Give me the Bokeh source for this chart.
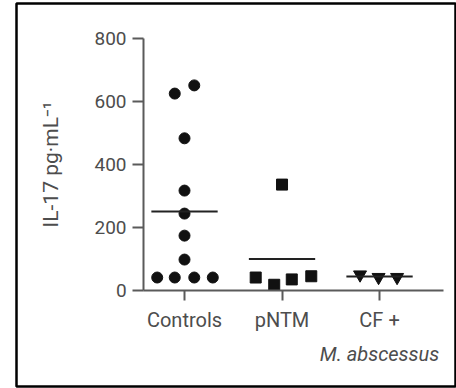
from bokeh.plotting import figure
from bokeh.models import FixedTicker, Range1d, LinearAxis
from bokeh.embed import file_html
from bokeh.resources import INLINE

# Data
categories = ["Controls", "pNTM", "CF +"]
category_line2 = "M. abscessus"
cat_pos = [1, 2, 3]
controls_x = [0.72, 0.90, 1.10, 1.29, 1.0, 1.0, 1.0, 1.0, 1.0, 0.90, 1.10]
controls_y = [41, 41, 41, 41, 98, 174, 244, 317, 483, 625, 651]
pntm_x = [1.73, 1.92, 2.10, 2.30, 2.0]
pntm_y = [41, 18, 35, 45, 336]
cf_x = [2.80, 2.99, 3.18]
cf_y = [50, 42, 42]
means = [251, 100, 44]
y_ticks = [0, 200, 400, 600, 800]

FONT = "Roboto"
TXT = "#4d4d4d"
AX = "#5a5a5a"

X0, X1 = 0.58, 3.66   # extent of the drawn x axis
Y0, Y1 = 0, 800       # extent of the drawn y axis

# The plotting frame fills the boxed area; its outline is the outer frame.
p = figure(width=456, height=388,
           min_border_left=16, min_border_right=1,
           min_border_top=3, min_border_bottom=2,
           x_range=Range1d(-0.723, 3.779), y_range=Range1d(-305, 911),
           x_axis_location=None, y_axis_location=None,
           output_backend="svg", toolbar_location=None)
p.outline_line_color = "black"
p.outline_line_width = 2.5
p.grid.grid_line_color = None
p.background_fill_color = "white"
p.border_fill_color = "white"

# y axis
yax = LinearAxis(fixed_location=X0, bounds=(Y0, Y1),
                 ticker=FixedTicker(ticks=y_ticks))
yax.minor_tick_line_color = None
yax.major_tick_out = 11
yax.major_tick_in = 0
yax.axis_line_color = AX
yax.major_tick_line_color = AX
yax.axis_line_width = 2
yax.major_tick_line_width = 2
yax.major_label_text_font = FONT
yax.major_label_text_font_size = "19px"
yax.major_label_text_color = TXT
yax.major_label_standoff = 6
yax.axis_label = "IL-17 pg·mL⁻¹"
yax.axis_label_text_font = FONT
yax.axis_label_text_font_style = "normal"
yax.axis_label_text_font_size = "21px"
yax.axis_label_text_color = TXT
yax.axis_label_standoff = 28
p.add_layout(yax, "left")

# x axis
xax = LinearAxis(fixed_location=Y0, bounds=(X0, X1),
                 ticker=FixedTicker(ticks=cat_pos),
                 major_label_overrides={c: n for c, n in zip(cat_pos, categories)})
xax.minor_tick_line_color = None
xax.major_tick_out = 10
xax.major_tick_in = 0
xax.axis_line_color = AX
xax.major_tick_line_color = AX
xax.axis_line_width = 2
xax.major_tick_line_width = 2
xax.major_label_text_font = FONT
xax.major_label_text_font_size = "20px"
xax.major_label_text_color = TXT
xax.major_label_standoff = 8
p.add_layout(xax, "below")

# second line of the third category label (italic)
ax2 = LinearAxis(fixed_location=-146, ticker=FixedTicker(ticks=[3]),
                 major_label_overrides={3: category_line2})
ax2.axis_line_color = None
ax2.major_tick_line_color = None
ax2.minor_tick_line_color = None
ax2.major_label_standoff = 0
ax2.major_label_text_font = FONT
ax2.major_label_text_font_size = "20px"
ax2.major_label_text_font_style = "italic"
ax2.major_label_text_color = TXT
p.add_layout(ax2, "below")

# points
p.scatter(controls_x, controls_y, marker="circle", size=11, color="#111111")
p.scatter(pntm_x, pntm_y, marker="square", size=11, color="#111111")
p.scatter(cf_x, cf_y, marker="inverted_triangle", size=13, color="#111111")

# mean lines
half = 0.34
p.segment(x0=[c - half for c in cat_pos], x1=[c + half for c in cat_pos],
          y0=means, y1=means, line_color="#222222", line_width=2)

open("out.html", "w").write(file_html(p, INLINE))
